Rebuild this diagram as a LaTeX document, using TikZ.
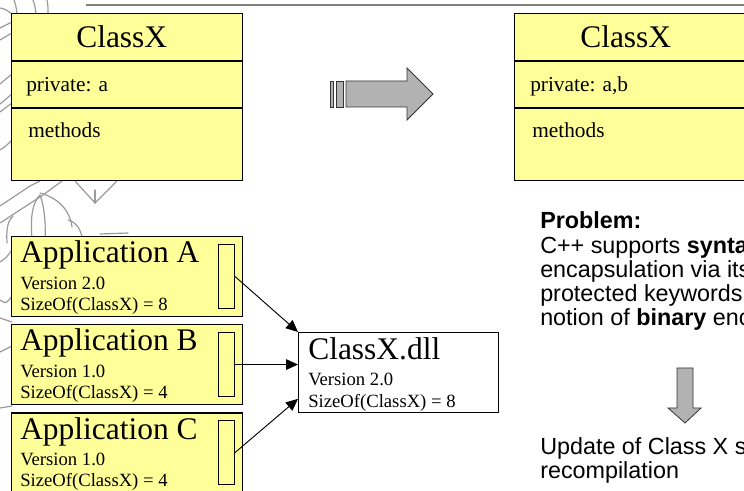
\documentclass[tikz,border=0pt]{standalone}
\usepackage{fontspec}
\setmainfont{Liberation Serif}
\newfontfamily\arialfont{Liberation Sans}
\usetikzlibrary{arrows.meta,calc}
\definecolor{notefill}{HTML}{FFFF99}
\definecolor{arrowgray}{HTML}{B2B2B2}
\definecolor{ornament}{HTML}{9A9A9A}
\definecolor{ruleline}{HTML}{808080}

\tikzset{
  umlbox/.style={draw=black, line width=0.8pt, fill=notefill, inner sep=0pt, anchor=north west},
  classbox/.style={umlbox, minimum width=173.25pt, minimum height=125.25pt},
  appbox/.style={umlbox, minimum width=173.25pt, minimum height=60pt},
  slot/.style={draw=black, line width=0.8pt, inner sep=0pt, anchor=north west, minimum width=12pt, minimum height=48pt},
  dllbox/.style={draw=black, line width=0.8pt, fill=white, inner sep=0pt, anchor=north west, minimum width=150pt, minimum height=60pt},
  txt/.style={inner sep=0pt, anchor=base west},
  title/.style={txt, font=\fontsize{23.6}{28}\selectfont},
  member/.style={txt, font=\fontsize{16}{19}\selectfont},
  detail/.style={txt, font=\fontsize{14}{17}\selectfont},
  note/.style={txt, font=\arialfont\fontsize{17.5}{21}\selectfont},
  link/.style={line width=0.7pt, -{Triangle[length=9pt,width=8pt]}},
  bigarrow/.style={draw=black!80, line width=0.6pt, fill=arrowgray},
  ornline/.style={draw=ornament, line width=0.9pt, line cap=round},
}

\begin{document}
\begin{tikzpicture}[x=0.75pt,y=-0.75pt]
\clip (0,0) rectangle (744,491);
\fill[white] (0,0) rectangle (744,491);

% ornament sketched behind the left column
\draw[ornline] (14,0) .. controls (16,6) .. (17,14);
\draw[ornline] (33,0) .. controls (35,6) .. (36,14);
\draw[ornline] (47,0) .. controls (48,6) .. (48,14);
\draw[ornline] (0,8) .. controls (5,9) .. (12,14);
\draw[ornline] (0,28) -- (12,22);
\draw[ornline] (0,40) -- (12,33);
\draw[ornline] (0,84) -- (12,74);
\draw[ornline] (0,104) -- (12,94);
\draw[ornline] (0,112) -- (12,103);
\draw[ornline] (0,150) .. controls (6,146) .. (12,140);
\draw[ornline] (0,223) -- (43,195) -- (62,181);
\draw[ornline] (0,206) -- (30,186) -- (40,181);
\draw[ornline] (7,243) .. controls (6,225) and (9,220) .. (13,216);
\draw[ornline] (32,240) .. controls (30,215) and (33,202) .. (40,195);
\draw[ornline] (40,195) .. controls (44,205) and (46,222) .. (45,240);
\draw[ornline] (40,193) .. controls (58,198) and (70,210) .. (72,227);
\draw[ornline] (68,220) .. controls (76,222) and (80,228) .. (82,237);
\draw[ornline] (75,181) -- (95,203) -- (117,181);
\draw[ornline] (95,203) -- (95,190);
\draw[ornline] (100,234) -- (128,233);
\draw[ornline] (0,262) .. controls (6,258) .. (12,250);
\draw[ornline] (0,300) .. controls (6,304) .. (12,296);
\draw[ornline] (0,318) -- (12,322);
\draw[ornline] (0,352) -- (12,346);
\draw[ornline] (0,408) -- (12,406);

% rule along the top edge
\draw[ruleline, line width=1.5pt] (86,5) -- (744,5);

% class before the change
\node[classbox] (clsold) at (11,13) {};
\draw[line width=0.8pt] ($(clsold.north west)+(0,48)$) -- ($(clsold.north east)+(0,48)$);
\draw[line width=0.8pt] ($(clsold.north west)+(0,95)$) -- ($(clsold.north east)+(0,95)$);
\node[title] (clsoldname) at (76,48) {ClassX};
\node[member] (clsoldattr) at (26,92) {private: a};
\node[member] (clsoldops) at (28,138) {methods};

% class after the change
\node[classbox] (clsnew) at (514,13) {};
\draw[line width=0.8pt] ($(clsnew.north west)+(0,48)$) -- ($(clsnew.north east)+(0,48)$);
\draw[line width=0.8pt] ($(clsnew.north west)+(0,95)$) -- ($(clsnew.north east)+(0,95)$);
\node[title] (clsnewname) at (580,48) {ClassX};
\node[member] (clsnewattr) at (530,92) {private: a,b};
\node[member] (clsnewops) at (532,138) {methods};

% striped block arrow
\draw[bigarrow] (330,81) rectangle (333,107);
\draw[bigarrow] (336,81) rectangle (343,107);
\draw[bigarrow] (346,81) -- (407,81) -- (407,68) -- (433,94) -- (407,120) -- (407,107) -- (346,107) -- cycle;

% client applications
\node[appbox] (appa) at (11,236) {};
\node[slot] (slota) at (218,244) {};
\node[title] (appaname) at (20,263) {Application A};
\node[detail] (appaver) at (20,290) {Version 2.0};
\node[detail] (appasize) at (20,311) {SizeOf(ClassX) = 8};

\node[appbox] (appb) at (11,324) {};
\node[slot] (slotb) at (218,332) {};
\node[title] (appbname) at (20,351) {Application B};
\node[detail] (appbver) at (20,378) {Version 1.0};
\node[detail] (appbsize) at (20,399) {SizeOf(ClassX) = 4};

\node[appbox] (appc) at (11,412.5) {};
\node[slot] (slotc) at (218,420) {};
\node[title] (appcname) at (20,440) {Application C};
\node[detail] (appcver) at (20,466) {Version 1.0};
\node[detail] (appcsize) at (20,487) {SizeOf(ClassX) = 4};

% shared library
\node[dllbox] (dll) at (298,332) {};
\node[title] (dllname) at (308,360) {ClassX.dll};
\node[detail] (dllver) at (308,386) {Version 2.0};
\node[detail] (dllsize) at (308,408) {SizeOf(ClassX) = 8};

\coordinate (dllc) at ($(dll.south west)!0.175!(dll.north west)$);
\draw[link] (slota.east) -- (dll.north west);
\draw[link] (slotb.east) -- (slotb.east -| dll.west);
\draw[link] (slotc.east) -- (dllc);

% explanation
\node[note] (p0) at (540,229) {\textbf{Problem:}};
\node[note] (p1) at (540,254) {C++ supports \textbf{syntactic}};
\node[note] (p2) at (540,278) {encapsulation via its};
\node[note] (p3) at (540,302) {protected keywords};
\node[note] (p4) at (540,326) {notion of \textbf{binary} encapsulation};

\draw[bigarrow] (677,368) -- (693,368) -- (693,408) -- (701,408) -- (685,423) -- (668,408) -- (677,408) -- cycle;

\node[note] (u0) at (540,455) {Update of Class X should};
\node[note] (u1) at (540,479) {recompilation};
\end{tikzpicture}
\end{document}
